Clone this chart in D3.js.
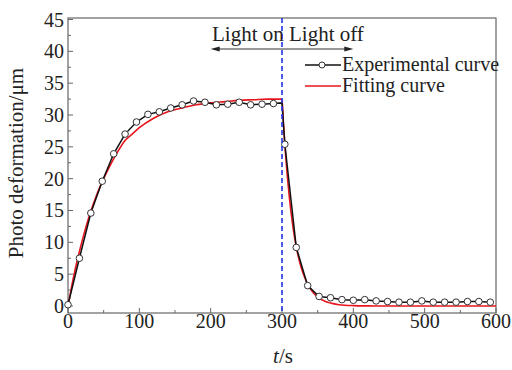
<!DOCTYPE html>
<html><head><meta charset="utf-8">
<script src="https://cdn.jsdelivr.net/npm/d3@7"></script>
<style>body{margin:0;background:#fff}svg{display:block}text{font-family:"Liberation Serif","Times New Roman",serif}</style>
</head><body><svg id="c" width="512" height="370"></svg>
<script>
const expTimes = [0,16,32,48,64,80,96,112,128,144,160,176,192,208,224,240,256,272,288,300,304,320,336,352,368,384,400,416,432,448,464,480,496,512,528,544,560,576,592];
const expValues = [0.2,7.5,14.6,19.6,23.9,27.0,28.9,30.1,30.5,31.1,31.6,32.2,32.0,31.6,31.7,32.0,31.6,31.7,31.8,31.9,25.4,9.2,3.2,1.5,1.3,1.0,0.9,1.0,0.8,0.7,0.6,0.6,0.8,0.6,0.6,0.6,0.7,0.7,0.6];
const fitTimes = [0,5,10,20,30,40,50,60,70,80,90,100,120,140,160,180,200,220,240,260,280,300,302,305,310,315,320,325,330,340,350,360,370,380,400,420,450,500,550,600];
const fitValues = [0,3.0,5.7,10.3,14.2,17.4,20.0,22.3,24.3,26.0,27.0,28.0,29.5,30.5,31.1,31.6,31.9,32.1,32.3,32.4,32.5,32.5,28.6,23.8,17.4,12.7,9.3,6.8,5.0,2.65,1.4,0.76,0.41,0.2,0.06,0.02,0,0,0,0];
const xTicks = [0,100,200,300,400,500,600];
const xMinor = [50,150,250,350,450,550];
const yTicks = [0,5,10,15,20,25,30,35,40,45];
const yMinor = [2.5,7.5,12.5,17.5,22.5,27.5,32.5,37.5,42.5];
const legendLabels = ["Experimental curve","Fitting curve"];
const annotation = "Light on Light off";
const arrowRange = [200,400];
const lightSwitch = 300;

const svg = d3.select("#c");
const L=68,R=496,T=18,B=313;
const x = d3.scaleLinear().domain([0,600]).range([L,R]);
const y = d3.scaleLinear().domain([-1.1,45]).range([B,T+1.5]);
const axisCol="#666", txtCol="#222";

svg.append("rect").attr("x",L).attr("y",T).attr("width",R-L).attr("height",B-T)
  .attr("fill","none").attr("stroke",axisCol).attr("stroke-width",1.2);

const gx = svg.append("g");
gx.selectAll("line.M").data(xTicks).join("line").attr("x1",d=>x(d)).attr("x2",d=>x(d)).attr("y1",B).attr("y2",B-5).attr("stroke",axisCol);
gx.selectAll("line.m").data(xMinor).join("line").attr("x1",d=>x(d)).attr("x2",d=>x(d)).attr("y1",B).attr("y2",B-3).attr("stroke",axisCol);
gx.selectAll("text").data(xTicks).join("text").attr("x",d=>x(d)).attr("y",328).attr("text-anchor","middle")
  .attr("font-size",20).attr("fill",txtCol).text(d=>d);
const gy = svg.append("g");
gy.selectAll("line.M").data(yTicks).join("line").attr("x1",L).attr("x2",L+5).attr("y1",d=>y(d)).attr("y2",d=>y(d)).attr("stroke",axisCol);
gy.selectAll("line.m").data(yMinor).join("line").attr("x1",L).attr("x2",L+3).attr("y1",d=>y(d)).attr("y2",d=>y(d)).attr("stroke",axisCol);
gy.selectAll("text").data(yTicks).join("text").attr("x",64).attr("y",d=>y(d)+7).attr("text-anchor","end")
  .attr("font-size",20).attr("fill",txtCol).text(d=>d);

svg.append("text").attr("transform","translate(23,163) rotate(-90)").attr("text-anchor","middle")
  .attr("font-size",21).attr("fill",txtCol).text("Photo deformation/μm");
const xl = svg.append("text").attr("x",283).attr("y",363).attr("text-anchor","middle").attr("font-size",21).attr("fill",txtCol);
xl.append("tspan").attr("font-style","italic").text("t");
xl.append("tspan").text("/s");

const fitData = fitTimes.map((t,i)=>[t,fitValues[i]]);
svg.append("path").datum(fitData).attr("fill","none").attr("stroke","#e8141c").attr("stroke-width",1.6)
  .attr("d",d3.line().x(d=>x(d[0])).y(d=>y(d[1])).curve(d3.curveMonotoneX));

const expData = expTimes.map((t,i)=>[t,expValues[i]]);
svg.append("path").datum(expData).attr("fill","none").attr("stroke","#111").attr("stroke-width",1.5)
  .attr("d",d3.line().x(d=>x(d[0])).y(d=>y(d[1])));
svg.selectAll("circle.e").data(expData.filter(d=>d[0]!==lightSwitch)).join("circle").attr("class","e").attr("cx",d=>x(d[0])).attr("cy",d=>y(d[1]))
  .attr("r",3.3).attr("fill","#fff").attr("stroke","#333").attr("stroke-width",1);

svg.append("line").attr("x1",x(lightSwitch)).attr("x2",x(lightSwitch)).attr("y1",T).attr("y2",B)
  .attr("stroke","#2233ee").attr("stroke-width",1.6).attr("stroke-dasharray","5,3");

svg.append("text").attr("x",212).attr("y",41).attr("font-size",21).attr("fill",txtCol).text(annotation);
const ay=49;
svg.append("line").attr("x1",x(arrowRange[0])+4).attr("x2",x(arrowRange[1])-4).attr("y1",ay).attr("y2",ay).attr("stroke","#333").attr("stroke-width",1.2);
const ah=(xx,dir)=>`M${xx},${ay}L${xx+dir*9},${ay-2.5}L${xx+dir*9},${ay+2.5}Z`;
svg.append("path").attr("d",ah(x(arrowRange[0]),1)).attr("fill","#222");
svg.append("path").attr("d",ah(x(arrowRange[1]),-1)).attr("fill","#222");

const lg = svg.append("g");
lg.append("line").attr("x1",305).attr("x2",341).attr("y1",65).attr("y2",65).attr("stroke","#111").attr("stroke-width",1.5);
lg.append("circle").attr("cx",322).attr("cy",65).attr("r",3).attr("fill","#fff").attr("stroke","#333");
lg.append("text").attr("x",342).attr("y",71).attr("font-size",20).attr("fill",txtCol).text(legendLabels[0]);
lg.append("line").attr("x1",305).attr("x2",341).attr("y1",86).attr("y2",86).attr("stroke","#e8141c").attr("stroke-width",1.6);
lg.append("text").attr("x",342).attr("y",92).attr("font-size",20).attr("fill",txtCol).text(legendLabels[1]);
</script></body></html>
